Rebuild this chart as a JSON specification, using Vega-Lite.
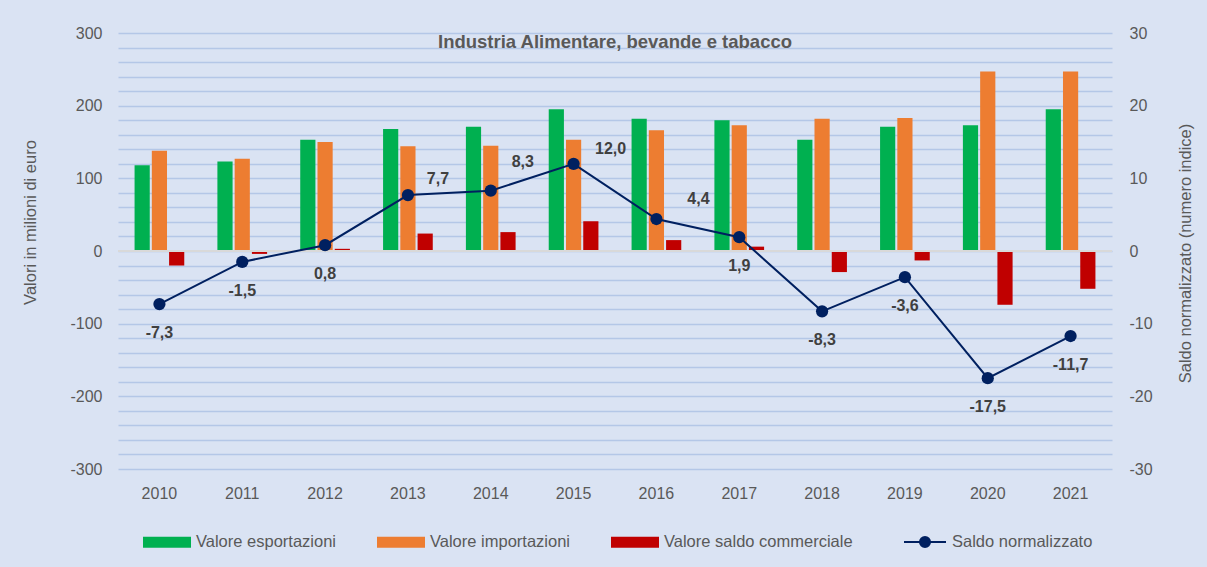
{
  "$schema": "https://vega.github.io/schema/vega-lite/v6.json",
  "width": 994,
  "height": 436,
  "autosize": "none",
  "padding": {"left": 118, "top": 33, "right": 95, "bottom": 98},
  "background": "#dae3f3",
  "config": {
    "view": {"stroke": null},
    "font": "Liberation Sans",
    "locale": {"number": {"decimal": ",", "thousands": ".", "grouping": [3], "currency": ["", " €"], "minus": "-"}},
    "axis": {"labelColor": "#595959", "titleColor": "#595959", "labelFontSize": 16, "titleFontSize": 16.5, "titleFontWeight": "normal", "domain": false, "ticks": false, "labelFont": "Liberation Sans", "titleFont": "Liberation Sans", "labelOverlap": false},
    "legend": {"labelColor": "#595959", "labelFontSize": 16.5, "labelFont": "Liberation Sans", "labelLimit": 400}
  },
  "title": {"text": "Industria Alimentare, bevande e tabacco", "fontSize": 18.5, "fontWeight": "bold", "color": "#595959", "anchor": "middle", "offset": -26, "font": "Liberation Sans"},
  "data": {"values": [
    {"anno": "2010", "Valore esportazioni": 118, "Valore importazioni": 138, "Valore saldo commerciale": -20, "Saldo normalizzato": -7.3},
    {"anno": "2011", "Valore esportazioni": 123, "Valore importazioni": 127, "Valore saldo commerciale": -4, "Saldo normalizzato": -1.5},
    {"anno": "2012", "Valore esportazioni": 153, "Valore importazioni": 150, "Valore saldo commerciale": 3, "Saldo normalizzato": 0.8},
    {"anno": "2013", "Valore esportazioni": 168, "Valore importazioni": 144, "Valore saldo commerciale": 24, "Saldo normalizzato": 7.7},
    {"anno": "2014", "Valore esportazioni": 171, "Valore importazioni": 145, "Valore saldo commerciale": 26, "Saldo normalizzato": 8.3},
    {"anno": "2015", "Valore esportazioni": 195, "Valore importazioni": 153, "Valore saldo commerciale": 41, "Saldo normalizzato": 12.0},
    {"anno": "2016", "Valore esportazioni": 182, "Valore importazioni": 166, "Valore saldo commerciale": 15, "Saldo normalizzato": 4.4},
    {"anno": "2017", "Valore esportazioni": 180, "Valore importazioni": 173, "Valore saldo commerciale": 6, "Saldo normalizzato": 1.9},
    {"anno": "2018", "Valore esportazioni": 153, "Valore importazioni": 182, "Valore saldo commerciale": -29, "Saldo normalizzato": -8.3},
    {"anno": "2019", "Valore esportazioni": 171, "Valore importazioni": 183, "Valore saldo commerciale": -13, "Saldo normalizzato": -3.6},
    {"anno": "2020", "Valore esportazioni": 173, "Valore importazioni": 247, "Valore saldo commerciale": -74, "Saldo normalizzato": -17.5},
    {"anno": "2021", "Valore esportazioni": 195, "Valore importazioni": 247, "Valore saldo commerciale": -52, "Saldo normalizzato": -11.7}
  ]},
  "layer": [
    {
      "layer": [
        {
          "transform": [{"fold": ["Valore esportazioni", "Valore importazioni", "Valore saldo commerciale"], "as": ["serie", "valore"]}],
          "mark": {"type": "bar"},
          "encoding": {
            "x": {"field": "anno", "type": "ordinal", "scale": {"paddingInner": 0.4, "paddingOuter": 0.2},
                  "axis": {"orient": "bottom", "labelAngle": 0, "title": null, "labelPadding": 16, "grid": false, "labelColor": "#595959", "labelFontSize": 16}},
            "xOffset": {"field": "serie", "type": "nominal", "scale": {"domain": ["Valore esportazioni", "Valore importazioni", "Valore saldo commerciale"], "paddingInner": 0.12}},
            "y": {"field": "valore", "type": "quantitative", "scale": {"domain": [-300, 300], "nice": false},
                  "axis": {"orient": "left", "values": [-300, -280, -260, -240, -220, -200, -180, -160, -140, -120, -100, -80, -60, -40, -20, 0, 20, 40, 60, 80, 100, 120, 140, 160, 180, 200, 220, 240, 260, 280, 300],
                           "tickCount": 100,
                           "grid": true, "gridColor": "#b4c7e7", "gridWidth": 1.5, "labelExpr": "datum.value % 100 === 0 ? datum.label : ''", "format": "d", "labelOverlap": false,
                           "labelPadding": 16, "title": "Valori in milioni di euro", "titleX": -88, "titleY": 189, "titleAngle": 270, "titleAlign": "center", "titleBaseline": "middle"}},
            "color": {"field": "serie", "type": "nominal",
                      "scale": {"domain": ["Valore esportazioni", "Valore importazioni", "Valore saldo commerciale"], "range": ["#00b050", "#ed7d31", "#c00000"]},
                      "legend": {"orient": "none", "legendX": 25, "legendY": 485, "direction": "horizontal", "title": null, "columnPadding": 40, "labelOffset": 5,
                                 "symbolType": "M-1,-0.23H1V0.23H-1Z", "symbolSize": 2304, "symbolStrokeWidth": 0}}
          }
        },
        {
          "data": {"values": [{"z": 0}]},
          "mark": {"type": "rule", "color": "#d9d9d9", "strokeWidth": 2},
          "encoding": {"y": {"field": "z", "type": "quantitative"}}
        }
      ]
    },
    {
      "layer": [
        {
          "mark": {"type": "line", "color": "#002060", "strokeWidth": 2},
          "encoding": {
            "x": {"field": "anno", "type": "ordinal"},
            "y": {"field": "Saldo normalizzato", "type": "quantitative", "scale": {"domain": [-30, 30], "nice": false},
                  "axis": {"orient": "right", "values": [-30, -20, -10, 0, 10, 20, 30], "tickCount": 20, "grid": false, "format": "d", "labelPadding": 17,
                           "title": "Saldo normalizzato (numero indice)", "titleX": 73, "titleY": 220, "titleAngle": 270, "titleAlign": "center", "titleBaseline": "middle"}},
            "stroke": {"datum": "Saldo normalizzato", "type": "nominal", "scale": {"range": ["#002060"]},
                       "legend": {"orient": "none", "legendX": 785, "legendY": 487, "direction": "horizontal", "title": null, "labelOffset": 5,
                                  "symbolType": "M-1,0H1M-0.24,0A0.24,0.24,0,1,0,0.24,0A0.24,0.24,0,1,0,-0.24,0", "symbolSize": 1764, "symbolStrokeWidth": 2,
                                  "symbolFillColor": "#002060", "symbolStrokeColor": "#002060",
                                  "encode": {"symbols": {"update": {"fill": {"value": "#002060"}, "stroke": {"value": "#002060"}}}}}}
          }
        },
        {
          "mark": {"type": "point", "filled": true, "color": "#002060", "size": 150, "opacity": 1},
          "encoding": {
            "x": {"field": "anno", "type": "ordinal"},
            "y": {"field": "Saldo normalizzato", "type": "quantitative"}
          }
        },
        {
          "transform": [{"filter": {"field": "anno", "oneOf": ["2010", "2011", "2012", "2017", "2018", "2019", "2020", "2021"]}}],
          "mark": {"type": "text", "fontSize": 16, "fontWeight": "bold", "color": "#404040", "dy": 29, "baseline": "middle", "align": "center"},
          "encoding": {
            "x": {"field": "anno", "type": "ordinal"},
            "y": {"field": "Saldo normalizzato", "type": "quantitative"},
            "text": {"field": "Saldo normalizzato", "type": "quantitative", "format": ".1f"}
          }
        },
        {
          "transform": [{"filter": {"field": "anno", "equal": "2013"}}],
          "mark": {"type": "text", "fontSize": 16, "fontWeight": "bold", "color": "#404040", "dx": 30, "dy": -16, "baseline": "middle", "align": "center"},
          "encoding": {
            "x": {"field": "anno", "type": "ordinal"},
            "y": {"field": "Saldo normalizzato", "type": "quantitative"},
            "text": {"field": "Saldo normalizzato", "type": "quantitative", "format": ".1f"}
          }
        },
        {
          "transform": [{"filter": {"field": "anno", "equal": "2014"}}],
          "mark": {"type": "text", "fontSize": 16, "fontWeight": "bold", "color": "#404040", "dx": 32, "dy": -29, "baseline": "middle", "align": "center"},
          "encoding": {
            "x": {"field": "anno", "type": "ordinal"},
            "y": {"field": "Saldo normalizzato", "type": "quantitative"},
            "text": {"field": "Saldo normalizzato", "type": "quantitative", "format": ".1f"}
          }
        },
        {
          "transform": [{"filter": {"field": "anno", "equal": "2015"}}],
          "mark": {"type": "text", "fontSize": 16, "fontWeight": "bold", "color": "#404040", "dx": 37, "dy": -15, "baseline": "middle", "align": "center"},
          "encoding": {
            "x": {"field": "anno", "type": "ordinal"},
            "y": {"field": "Saldo normalizzato", "type": "quantitative"},
            "text": {"field": "Saldo normalizzato", "type": "quantitative", "format": ".1f"}
          }
        },
        {
          "transform": [{"filter": {"field": "anno", "equal": "2016"}}],
          "mark": {"type": "text", "fontSize": 16, "fontWeight": "bold", "color": "#404040", "dx": 42, "dy": -20, "baseline": "middle", "align": "center"},
          "encoding": {
            "x": {"field": "anno", "type": "ordinal"},
            "y": {"field": "Saldo normalizzato", "type": "quantitative"},
            "text": {"field": "Saldo normalizzato", "type": "quantitative", "format": ".1f"}
          }
        }
      ]
    }
  ],
  "resolve": {"scale": {"y": "independent"}}
}
